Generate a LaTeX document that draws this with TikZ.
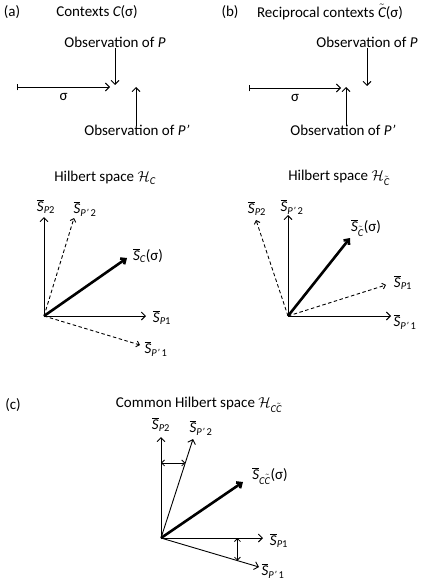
\documentclass[tikz,border=0pt]{standalone}
\usepackage{fontspec}
\setmainfont{Carlito}
\usetikzlibrary{arrows.meta, calc}

\newcommand{\ssz}{\fontsize{10.5}{12}\selectfont}
\newcommand{\Sbar}[1]{$\overline{\hbox{\itshape S}}_{\hbox{\ssz #1}}$}
\newcommand{\tC}{$\tilde{\hbox{\itshape C}}$}

\begin{document}
\begin{tikzpicture}[
  x=1pt, y=-1pt,
  font=\fontsize{15}{18}\selectfont,
  >={Straight Barb[length=4pt,width=8pt]},
  vec/.style={->, line width=0.9pt},
  dvec/.style={->, line width=0.9pt, dash pattern=on 3.5pt off 2.5pt, >={Straight Barb[length=3pt,width=6pt]}},
  bigvec/.style={->, line width=2.6pt, >={Straight Barb[length=4pt,width=7pt]}},
  gap/.style={<->, line width=0.8pt, >={Straight Barb[length=3pt,width=6pt]}},
  lbl/.style={inner sep=0pt}
]
  \useasboundingbox (0,0) rectangle (436,588);

  % (a) contexts
  \node (tagA) at (12,12) {(a)};
  \node (titleA) at (97,12) {Contexts {\itshape C}(σ)};
  \node[lbl] (obsPa) at (115,42) {Observation of {\itshape P}};
  \node[lbl] (obsQa) at (137,130) {Observation of {\itshape P’}};
  \coordinate (startA) at (17,87);
  \coordinate (endA) at (110,87);
  \coordinate (tipPa) at (115,85);
  \coordinate (tipQa) at (136,87);
  \draw[|->, line width=0.9pt] (startA) -- (endA) node[midway, below=3pt] (sigA) {σ};
  \draw[vec] ($(obsPa.south -| tipPa)+(0,1)$) -- (tipPa);
  \draw[vec] ($(obsQa.north -| tipQa)+(0,1)$) -- (tipQa);

  % (b) reciprocal contexts
  \node (tagB) at (230,12) {(b)};
  \node (titleB) at (330,12) {Reciprocal contexts \tC(σ)};
  \node[lbl] (obsPb) at (367,42) {Observation of {\itshape P}};
  \node[lbl] (obsQb) at (343,130) {Observation of {\itshape P’}};
  \coordinate (startB) at (249,88);
  \coordinate (endB) at (341,88);
  \coordinate (tipPb) at (367,86);
  \coordinate (tipQb) at (346,87);
  \draw[|->, line width=0.9pt] (startB) -- (endB) node[midway, below=3pt] (sigB) {σ};
  \draw[vec] ($(obsPb.south -| tipPb)+(0,1)$) -- (tipPb);
  \draw[vec] ($(obsQb.north -| tipQb)+(0,1)$) -- (tipQb);

  % Hilbert space of C
  \node (hilA) at (105,178) {Hilbert space $\mathcal{H}_{\hbox{\ssz\itshape C}}$};
  \coordinate (oA) at (44,316);
  \coordinate (aP2) at (44,217);
  \coordinate (aQ2) at (74,218);
  \coordinate (aS) at (127,258);
  \coordinate (aP1) at (146,316);
  \coordinate (aQ1) at (140,345);
  \draw[vec] (oA) -- (aP2);
  \draw[dvec] (oA) -- (aQ2);
  \draw[bigvec] (oA) -- (aS);
  \draw[vec] (oA) -- (aP1);
  \draw[dvec] (oA) -- (aQ1);
  \node[lbl] (laP2) at (46,207) {\Sbar{\itshape P\upshape 2}};
  \node[lbl] (laQ2) at (85,209) {\Sbar{\itshape P’\,\upshape 2}};
  \node[lbl] (laS) at (148,256) {\Sbar{\itshape C}(σ)};
  \node[lbl] (laP1) at (162,318) {\Sbar{\itshape P\upshape 1}};
  \node[lbl] (laQ1) at (156,349) {\Sbar{\itshape P’\,\upshape 1}};

  % Hilbert space of reciprocal C
  \node (hilB) at (339,178) {Hilbert space $\mathcal{H}_{\tilde{\hbox{\ssz\itshape C}}}$};
  \coordinate (oB) at (288,316);
  \coordinate (bQ2) at (288,215);
  \coordinate (bP2) at (256,220);
  \coordinate (bS) at (350,238);
  \coordinate (bP1) at (386,285);
  \coordinate (bQ1) at (391,316);
  \draw[vec] (oB) -- (bQ2);
  \draw[dvec] (oB) -- (bP2);
  \draw[bigvec] (oB) -- (bS);
  \draw[dvec] (oB) -- (bP1);
  \draw[vec] (oB) -- (bQ1);
  \node[lbl] (lbP2) at (257,209) {\Sbar{\itshape P\upshape 2}};
  \node[lbl] (lbQ2) at (292,207) {\Sbar{\itshape P’\,\upshape 2}};
  \node[lbl] (lbS) at (366,228) {$\overline{\hbox{\itshape S}}_{\tilde{\hbox{\ssz\itshape C}}}$(σ)};
  \node[lbl] (lbP1) at (403,283) {\Sbar{\itshape P\upshape 1}};
  \node[lbl] (lbQ1) at (405,322) {\Sbar{\itshape P’\,\upshape 1}};

  % (c) common Hilbert space
  \node (tagC) at (13,405) {(c)};
  \node (hilC) at (199,405) {Common Hilbert space $\mathcal{H}_{\hbox{\ssz\itshape C}\tilde{\hbox{\ssz\itshape C}}}$};
  \coordinate (oC) at (161,538);
  \coordinate (cP2) at (161,437);
  \coordinate (cQ2) at (193,439);
  \coordinate (cS) at (243,482);
  \coordinate (cP1) at (263,538);
  \coordinate (cQ1) at (259,567);
  \draw[vec] (oC) -- (cP2);
  \draw[vec] (oC) -- (cQ2);
  \draw[bigvec] (oC) -- (cS);
  \draw[vec] (oC) -- (cP1);
  \draw[vec] (oC) -- (cQ1);
  \node[lbl] (lcP2) at (161,425) {\Sbar{\itshape P\upshape 2}};
  \node[lbl] (lcQ2) at (201,428) {\Sbar{\itshape P’\,\upshape 2}};
  \node[lbl] (lcS) at (270,476) {$\overline{\hbox{\itshape S}}_{\hbox{\ssz\itshape C}\tilde{\hbox{\ssz\itshape C}}}$(σ)};
  \node[lbl] (lcP1) at (279,541) {\Sbar{\itshape P\upshape 1}};
  \node[lbl] (lcQ1) at (273,571) {\Sbar{\itshape P’\,\upshape 1}};
  % angle markers
  \coordinate (gapTop) at ($(oC)!0.758!(cQ2)$);
  \draw[gap] (gapTop -| oC) -- (gapTop);
  \coordinate (gapBot) at ($(oC)!0.78!(cQ1)$);
  \draw[gap] (gapBot |- oC) -- (gapBot);
\end{tikzpicture}
\end{document}
